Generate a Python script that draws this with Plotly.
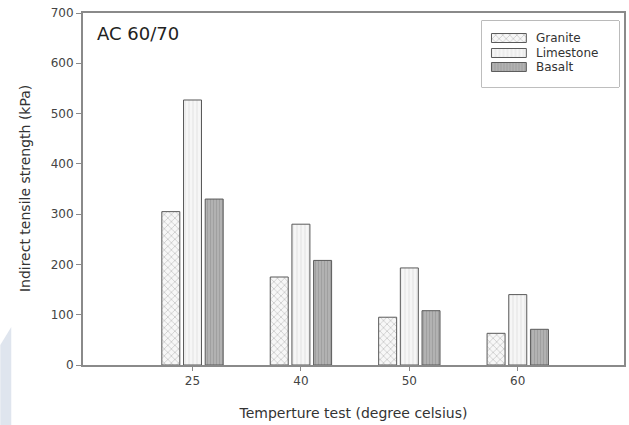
import plotly.graph_objects as go

# Indirect tensile strength of AC 60/70 mixes by aggregate type
temperatures = ["25", "40", "50", "60"]
granite = [305, 175, 95, 63]
limestone = [527, 280, 193, 140]
basalt = [330, 208, 108, 71]

y_ticks = [0, 100, 200, 300, 400, 500, 600, 700]

FONT = "DejaVu Sans"
AXIS_GREY = "#8a8a8a"
EDGE = "#5a5a5a"

series = [
    ("Granite", granite, dict(shape="x", size=5, solidity=0.25, fgcolor="#8c8c8c", bgcolor="#f7f7f7")),
    ("Limestone", limestone, dict(shape="|", size=4, solidity=0.2, fgcolor="#c4c4c4", bgcolor="#f6f6f6")),
    ("Basalt", basalt, dict(shape="|", size=3, solidity=0.35, fgcolor="#8e8e8e", bgcolor="#b2b2b2")),
]

# Legend box (paper coords) and key rows inside it (key-axis coords)
LEG_X = (0.7366, 0.9908)
LEG_Y = (0.7898, 0.9773)
KEY_ROWS = [0.742, 0.515, 0.303]
KEY_LEFT, KEY_LEN, KEY_H = 0.0725, 0.2535, 0.136
LABEL_X = 0.834

fig = go.Figure()
for name, vals, pattern in series:
    fig.add_trace(go.Bar(
        x=temperatures,
        y=vals,
        name=name,
        showlegend=False,
        marker=dict(color=pattern["bgcolor"], pattern=pattern,
                    line=dict(color=EDGE, width=1)),
    ))

# Patterned legend keys drawn on their own small axes
for (name, _, pattern), row in zip(series, KEY_ROWS):
    fig.add_trace(go.Bar(
        x=[KEY_LEN], y=[row], base=[KEY_LEFT], width=[KEY_H],
        orientation="h", xaxis="x2", yaxis="y2",
        showlegend=False, hoverinfo="skip",
        marker=dict(color=pattern["bgcolor"], pattern=pattern,
                    line=dict(color=EDGE, width=1)),
    ))

annotations = [dict(
    text="AC 60/70", x=0.022, y=0.943, xref="paper", yref="paper",
    xanchor="left", yanchor="middle", showarrow=False,
    font=dict(family=FONT, size=18, color="#222222"),
), dict(
    text="Indirect tensile strength (kPa)", x=-0.107, y=0.5,
    xref="paper", yref="paper", textangle=-90,
    xanchor="center", yanchor="middle", showarrow=False,
    font=dict(family=FONT, size=14, color="#333333"),
)]
for (name, _, _), row in zip(series, KEY_ROWS):
    annotations.append(dict(
        text=name, x=LABEL_X, xref="paper",
        y=LEG_Y[0] + row * (LEG_Y[1] - LEG_Y[0]), yref="paper",
        xanchor="left", yanchor="middle", showarrow=False,
        font=dict(family=FONT, size=12, color="#333333"),
    ))

fig.update_layout(
    width=629,
    height=425,
    margin=dict(l=83, r=3, t=13, b=60),
    paper_bgcolor="white",
    plot_bgcolor="white",
    barmode="group",
    bargap=0.4,
    bargroupgap=0.17,
    font=dict(family=FONT, color="#333333"),
    showlegend=False,
    annotations=annotations,
    shapes=[
        dict(type="path", xref="paper", yref="paper", layer="below",
             path="M -0.1529 -0.18 L -0.1326 -0.18 L -0.1326 0.1080 L -0.1529 0.0568 Z",
             fillcolor="#dfe5ee", line=dict(width=0)),
        dict(type="rect", xref="paper", yref="paper", layer="below",
             x0=LEG_X[0], x1=LEG_X[1], y0=LEG_Y[0], y1=LEG_Y[1],
             fillcolor="white", line=dict(color="#7a7a7a", width=1)),
    ],
    xaxis=dict(
        type="category",
        range=[-1.01, 3.98],
        showline=True, linecolor=AXIS_GREY, linewidth=2, mirror=True,
        ticks="outside", ticklen=4, tickcolor=AXIS_GREY,
        tickfont=dict(family=FONT, size=12, color="#444444"),
        showgrid=False, zeroline=False,
        title=dict(text="Temperture test (degree celsius)",
                   font=dict(family=FONT, size=14, color="#333333"), standoff=21),
    ),
    yaxis=dict(
        range=[0, 700],
        tickvals=y_ticks,
        showline=True, linecolor=AXIS_GREY, linewidth=2, mirror=True,
        ticks="outside", ticklen=5, tickcolor=AXIS_GREY,
        tickfont=dict(family=FONT, size=12, color="#444444"),
        showgrid=False, zeroline=False,
    ),
    xaxis2=dict(domain=list(LEG_X), range=[0, 1], anchor="y2", visible=False,
                fixedrange=True),
    yaxis2=dict(domain=list(LEG_Y), range=[0, 1], anchor="x2", visible=False,
                fixedrange=True),
)

fig.write_html("out.html")
